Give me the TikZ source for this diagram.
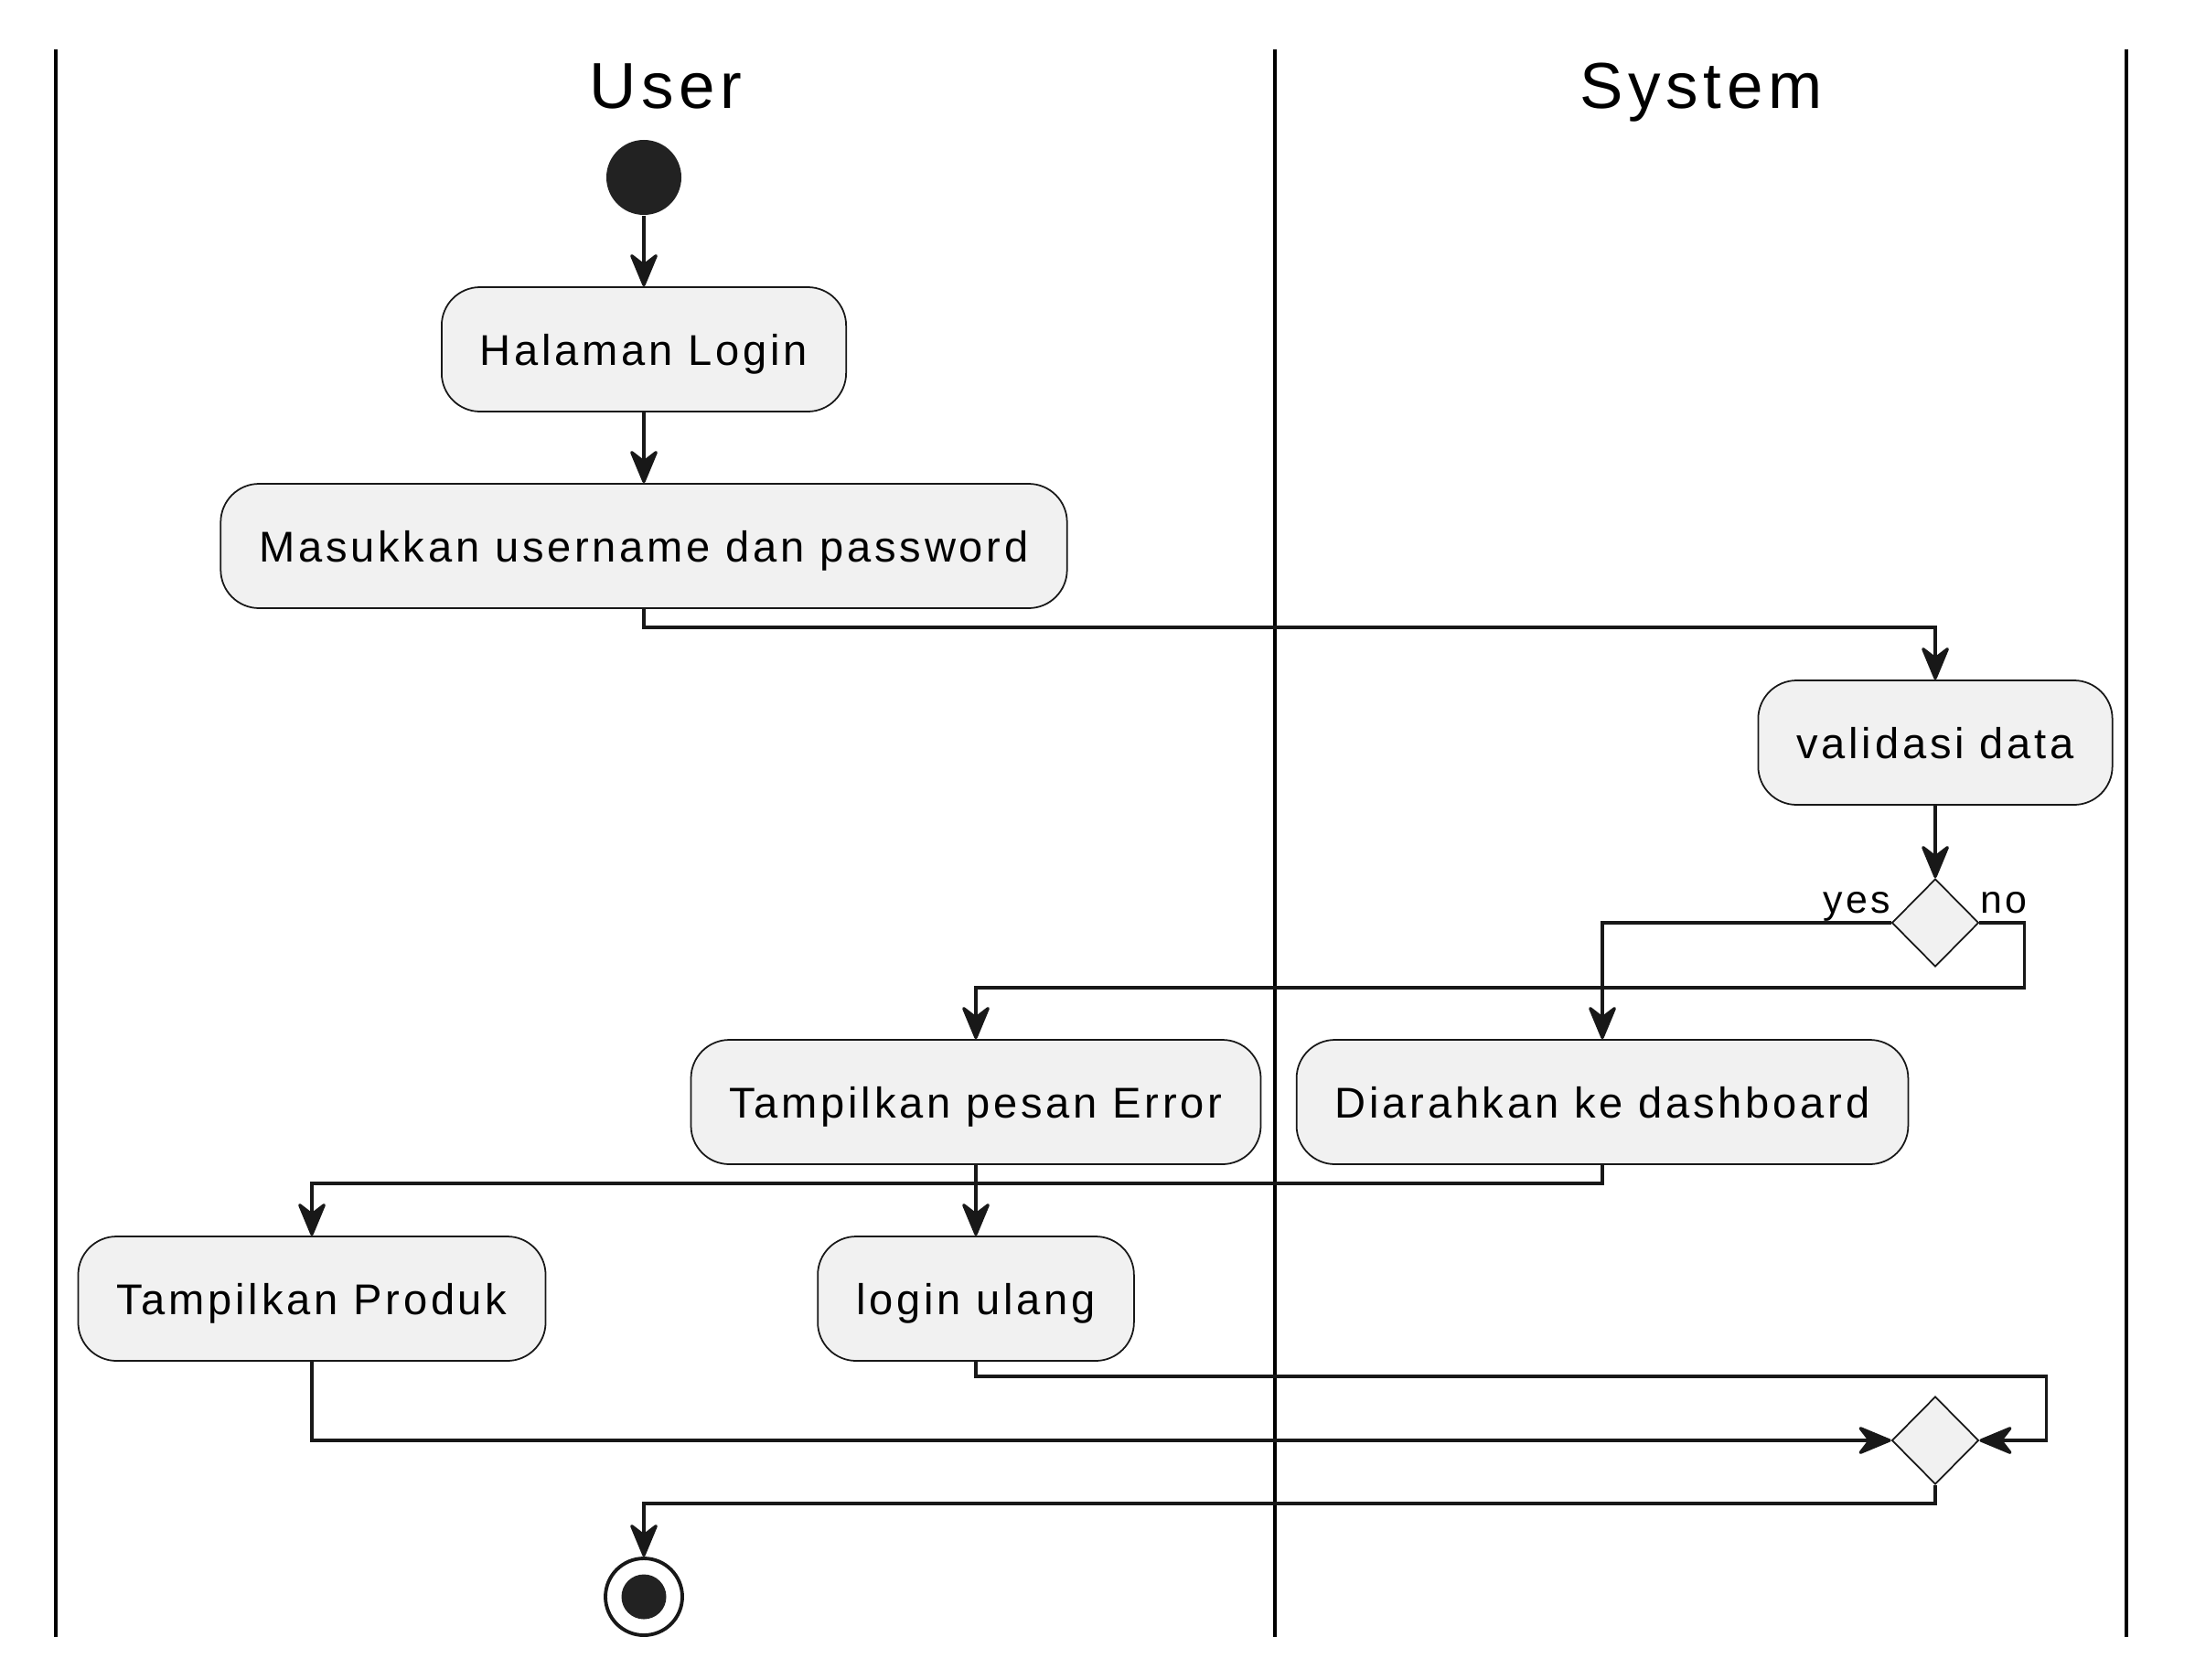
\documentclass[tikz,border=0pt]{standalone}
\usepackage{fontspec}
\setmainfont{Liberation Sans}[LetterSpace=8]
\usetikzlibrary{arrows.meta, shapes.geometric}
\definecolor{ink}{HTML}{181818}
\definecolor{actfill}{HTML}{F1F1F1}
\definecolor{dotfill}{HTML}{222222}

\begin{document}
\begin{tikzpicture}[
  every text node part/.style={align=center},
  actsty/.style={draw=ink, fill=actfill, line width=0.5pt, rounded corners=0.42cm,
    minimum height=1.36cm, inner xsep=0.42cm, text height=0.34cm, text depth=0pt,
    font=\fontsize{13.4}{16}\selectfont},
  decsty/.style={draw=ink, fill=actfill, line width=0.5pt, diamond, inner sep=0pt,
    minimum width=0.95cm, minimum height=0.96cm},
  startsty/.style={circle, fill=dotfill, inner sep=0pt, minimum size=0.82cm},
  endsty/.style={circle, draw=ink, fill=white, line width=1.1pt, inner sep=0pt, minimum size=0.84cm},
  titlesty/.style={inner sep=0pt, text height=0.51cm, text depth=0pt, font=\fontsize{20.2}{24}\selectfont},
  lblsty/.style={inner sep=0pt, font=\fontsize{12.2}{14}\selectfont},
  lanesty/.style={draw=black, line width=1.3pt},
  flow/.style={draw=ink, line width=0.95pt, -{Stealth[length=4.1mm, width=3.4mm, inset=1.3mm, round]}}
]
%general params
\def\top{-0.54}
\def\bot{-17.90}

\useasboundingbox (0,0) rectangle (24,-18.36);

% swimlanes
\foreach \x in {0.61,13.94,23.25}
  \draw[lanesty] (\x,\top) -- (\x,\bot);

\node[titlesty] (userT) at (7.28,-0.93) {User};
\node[titlesty] (sysT)  at (18.60,-0.93) {System};

% activities
\node[startsty] (start) at (7.04,-1.94) {};
\node[actsty] (login) at (7.04,-3.82) {Halaman Login};
\node[actsty] (input) at (7.04,-5.97) {Masukkan username dan password};
\node[actsty] (valid) at (21.16,-8.12) {validasi data};
\node[decsty] (dec1)  at (21.16,-10.09) {};
\node[actsty] (error) at (10.67,-12.05) {Tampilkan pesan Error};
\node[actsty] (dash)  at (17.52,-12.05) {Diarahkan ke dashboard};
\node[actsty] (prod)  at (3.41,-14.20) {Tampilkan Produk};
\node[actsty] (relog) at (10.67,-14.20) {login ulang};
\node[decsty] (dec2)  at (21.16,-15.75) {};
\node[endsty] (stop)  at (7.04,-17.46) {};
\fill[dotfill] (stop) circle (0.245);

\node[lblsty, anchor=base east] (yes) at ([yshift=0.11cm]dec1.west) {yes};
\node[lblsty, anchor=base west] (no)  at ([yshift=0.11cm]dec1.east) {no};

% flows
\draw[flow] (start) -- (login);
\draw[flow] (login) -- (input);
\draw[flow] (input.south) -- ++(0,-0.2) -| (valid.north);
\draw[flow] (valid) -- (dec1);
\draw[flow] (dec1.west) -| (dash.north);
\draw[flow] (dec1.east) -| ++(0.49,-0.71) -| (error.north);
\draw[flow] (dash.south) -- ++(0,-0.2) -| (prod.north);
\draw[flow] (error) -- (relog);
\draw[flow] (relog.south) -- ++(0,-0.16) -| ([xshift=0.73cm]dec2.east) -- (dec2.east);
\draw[flow] (prod.south) |- (dec2.west);
\draw[flow] (dec2.south) -- ++(0,-0.2) -| (stop.north);

\end{tikzpicture}
\end{document}
